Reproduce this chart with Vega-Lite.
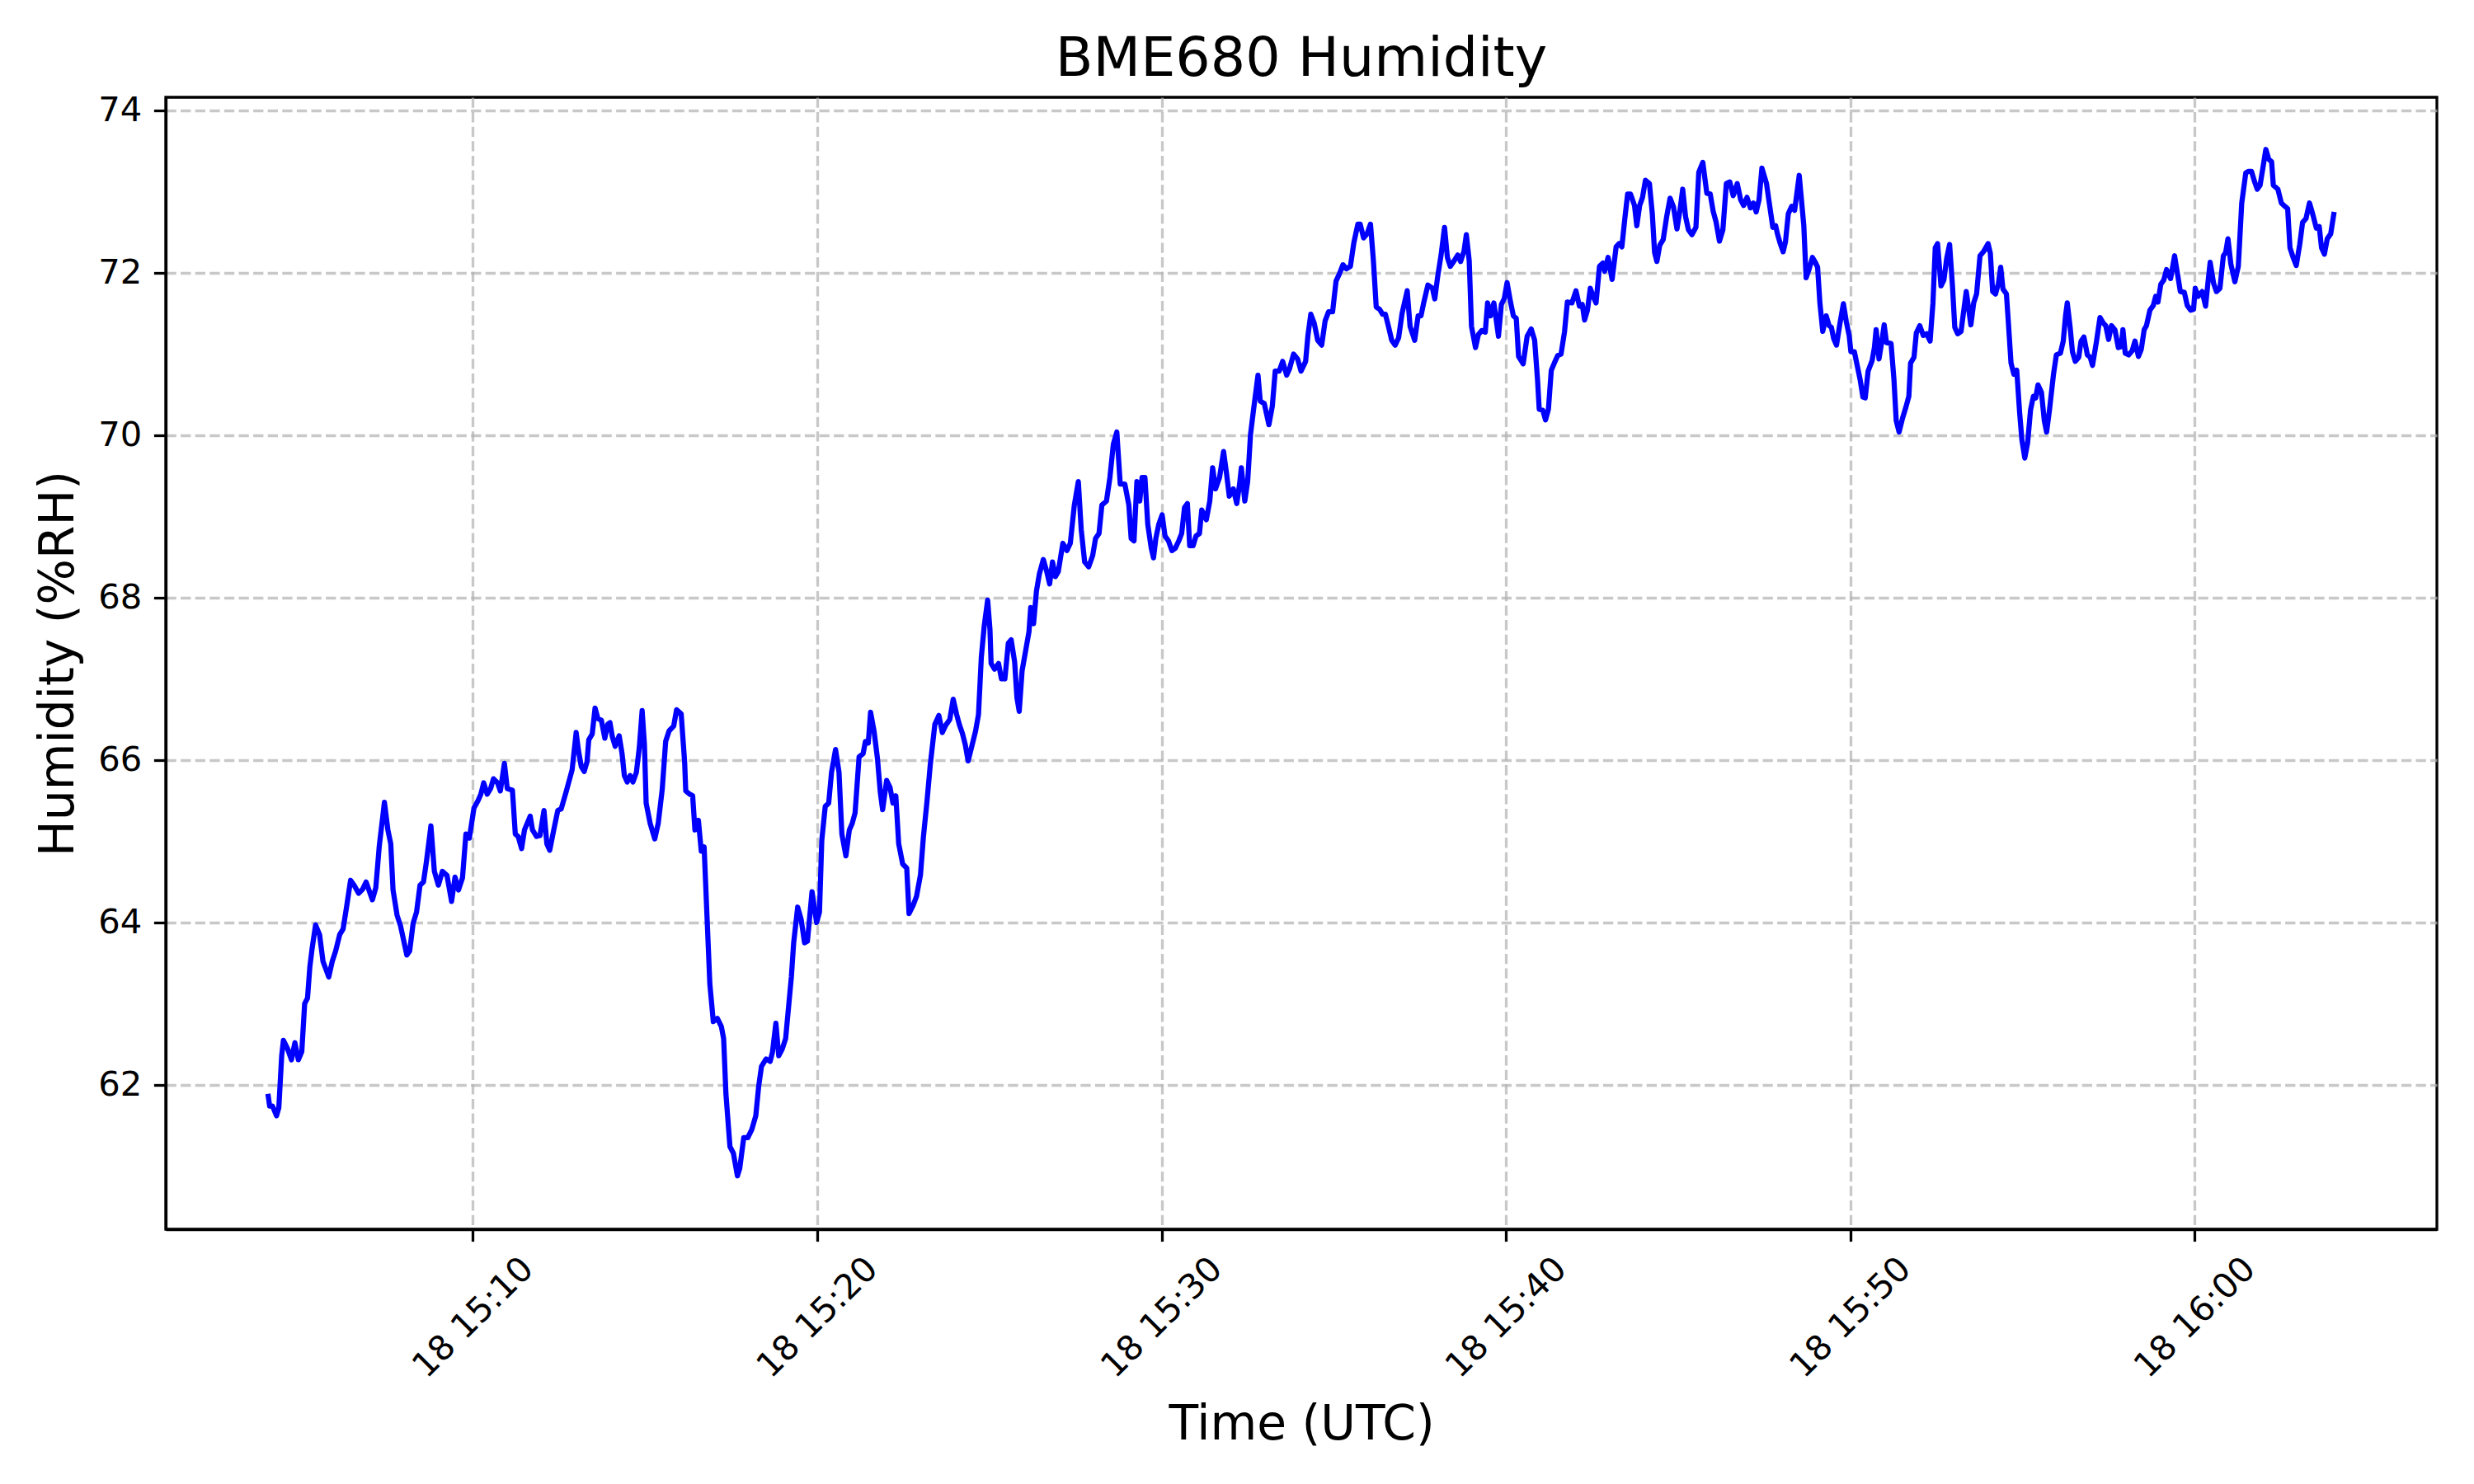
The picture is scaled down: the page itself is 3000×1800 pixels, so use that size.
{
"$schema": "https://vega.github.io/schema/vega-lite/v6.json",
"width": 2754,
"height": 1373,
"autosize": {"type": "none"},
"padding": {"left": 201, "top": 118, "right": 45, "bottom": 309},
"background": "white",
"config": {"view": {"stroke": "black", "strokeWidth": 3.3}, "font": "DejaVu Sans"},
"title": {"text": "BME680 Humidity", "fontSize": 66.7, "font": "DejaVu Sans", "fontWeight": "normal", "color": "black", "anchor": "middle", "baseline": "alphabetic", "offset": 25, "dy": 70},
"data": {"values": [
{"time":"2024-01-18T15:04:03","h":61.89},{"time":"2024-01-18T15:04:06","h":61.74},{"time":"2024-01-18T15:04:11","h":61.74},{"time":"2024-01-18T15:04:18","h":61.62},{"time":"2024-01-18T15:04:22","h":61.72},{"time":"2024-01-18T15:04:27","h":62.36},{"time":"2024-01-18T15:04:30","h":62.55},{"time":"2024-01-18T15:04:37","h":62.45},{"time":"2024-01-18T15:04:44","h":62.31},{"time":"2024-01-18T15:04:50","h":62.52},{"time":"2024-01-18T15:04:56","h":62.31},{"time":"2024-01-18T15:05:02","h":62.41},{"time":"2024-01-18T15:05:07","h":63.00},{"time":"2024-01-18T15:05:12","h":63.07},{"time":"2024-01-18T15:05:16","h":63.45},{"time":"2024-01-18T15:05:20","h":63.68},{"time":"2024-01-18T15:05:26","h":63.97},{"time":"2024-01-18T15:05:33","h":63.85},{"time":"2024-01-18T15:05:39","h":63.52},{"time":"2024-01-18T15:05:49","h":63.33},{"time":"2024-01-18T15:05:55","h":63.52},{"time":"2024-01-18T15:06:01","h":63.65},{"time":"2024-01-18T15:06:08","h":63.85},{"time":"2024-01-18T15:06:14","h":63.92},{"time":"2024-01-18T15:06:20","h":64.19},{"time":"2024-01-18T15:06:27","h":64.52},{"time":"2024-01-18T15:06:34","h":64.45},{"time":"2024-01-18T15:06:41","h":64.36},{"time":"2024-01-18T15:06:48","h":64.41},{"time":"2024-01-18T15:06:54","h":64.50},{"time":"2024-01-18T15:07:05","h":64.28},{"time":"2024-01-18T15:07:11","h":64.43},{"time":"2024-01-18T15:07:17","h":64.94},{"time":"2024-01-18T15:07:26","h":65.48},{"time":"2024-01-18T15:07:32","h":65.14},{"time":"2024-01-18T15:07:37","h":64.97},{"time":"2024-01-18T15:07:41","h":64.40},{"time":"2024-01-18T15:07:48","h":64.09},{"time":"2024-01-18T15:07:54","h":63.96},{"time":"2024-01-18T15:08:05","h":63.60},{"time":"2024-01-18T15:08:10","h":63.65},{"time":"2024-01-18T15:08:16","h":63.99},{"time":"2024-01-18T15:08:22","h":64.13},{"time":"2024-01-18T15:08:28","h":64.46},{"time":"2024-01-18T15:08:34","h":64.50},{"time":"2024-01-18T15:08:39","h":64.74},{"time":"2024-01-18T15:08:47","h":65.19},{"time":"2024-01-18T15:08:53","h":64.63},{"time":"2024-01-18T15:09:00","h":64.46},{"time":"2024-01-18T15:09:07","h":64.63},{"time":"2024-01-18T15:09:15","h":64.58},{"time":"2024-01-18T15:09:23","h":64.26},{"time":"2024-01-18T15:09:29","h":64.56},{"time":"2024-01-18T15:09:35","h":64.40},{"time":"2024-01-18T15:09:42","h":64.55},{"time":"2024-01-18T15:09:48","h":65.09},{"time":"2024-01-18T15:09:54","h":65.04},
{"time":"2024-01-18T15:10:02","h":65.41},{"time":"2024-01-18T15:10:09","h":65.50},{"time":"2024-01-18T15:10:14","h":65.58},{"time":"2024-01-18T15:10:19","h":65.72},{"time":"2024-01-18T15:10:25","h":65.58},{"time":"2024-01-18T15:10:31","h":65.65},{"time":"2024-01-18T15:10:36","h":65.77},{"time":"2024-01-18T15:10:43","h":65.72},{"time":"2024-01-18T15:10:48","h":65.62},{"time":"2024-01-18T15:10:55","h":65.96},{"time":"2024-01-18T15:11:00","h":65.65},{"time":"2024-01-18T15:11:09","h":65.63},{"time":"2024-01-18T15:11:14","h":65.09},{"time":"2024-01-18T15:11:19","h":65.06},{"time":"2024-01-18T15:11:25","h":64.91},{"time":"2024-01-18T15:11:30","h":65.14},{"time":"2024-01-18T15:11:40","h":65.31},{"time":"2024-01-18T15:11:44","h":65.14},{"time":"2024-01-18T15:11:51","h":65.06},{"time":"2024-01-18T15:11:57","h":65.07},{"time":"2024-01-18T15:12:04","h":65.38},{"time":"2024-01-18T15:12:09","h":64.97},{"time":"2024-01-18T15:12:14","h":64.89},{"time":"2024-01-18T15:12:21","h":65.14},{"time":"2024-01-18T15:12:28","h":65.38},{"time":"2024-01-18T15:12:34","h":65.40},{"time":"2024-01-18T15:12:43","h":65.62},{"time":"2024-01-18T15:12:53","h":65.88},{"time":"2024-01-18T15:13:00","h":66.34},{"time":"2024-01-18T15:13:04","h":66.12},{"time":"2024-01-18T15:13:09","h":65.92},{"time":"2024-01-18T15:13:14","h":65.86},{"time":"2024-01-18T15:13:19","h":65.98},{"time":"2024-01-18T15:13:22","h":66.25},{"time":"2024-01-18T15:13:28","h":66.32},{"time":"2024-01-18T15:13:33","h":66.64},{"time":"2024-01-18T15:13:38","h":66.51},{"time":"2024-01-18T15:13:44","h":66.49},{"time":"2024-01-18T15:13:50","h":66.27},{"time":"2024-01-18T15:13:55","h":66.44},{"time":"2024-01-18T15:13:59","h":66.46},{"time":"2024-01-18T15:14:03","h":66.29},{"time":"2024-01-18T15:14:08","h":66.17},{"time":"2024-01-18T15:14:15","h":66.30},{"time":"2024-01-18T15:14:20","h":66.08},{"time":"2024-01-18T15:14:24","h":65.81},{"time":"2024-01-18T15:14:29","h":65.73},{"time":"2024-01-18T15:14:34","h":65.81},{"time":"2024-01-18T15:14:39","h":65.73},{"time":"2024-01-18T15:14:45","h":65.85},{"time":"2024-01-18T15:14:50","h":66.15},{"time":"2024-01-18T15:14:55","h":66.61},{"time":"2024-01-18T15:14:59","h":66.19},
{"time":"2024-01-18T15:15:02","h":65.47},{"time":"2024-01-18T15:15:09","h":65.22},{"time":"2024-01-18T15:15:17","h":65.03},{"time":"2024-01-18T15:15:23","h":65.22},{"time":"2024-01-18T15:15:30","h":65.64},{"time":"2024-01-18T15:15:36","h":66.23},{"time":"2024-01-18T15:15:42","h":66.36},{"time":"2024-01-18T15:15:50","h":66.42},{"time":"2024-01-18T15:15:55","h":66.62},{"time":"2024-01-18T15:16:03","h":66.57},{"time":"2024-01-18T15:16:09","h":65.98},{"time":"2024-01-18T15:16:11","h":65.62},{"time":"2024-01-18T15:16:18","h":65.58},{"time":"2024-01-18T15:16:23","h":65.56},{"time":"2024-01-18T15:16:27","h":65.14},{"time":"2024-01-18T15:16:33","h":65.26},{"time":"2024-01-18T15:16:38","h":64.88},{"time":"2024-01-18T15:16:43","h":64.93},{"time":"2024-01-18T15:16:48","h":64.08},{"time":"2024-01-18T15:16:53","h":63.24},{"time":"2024-01-18T15:16:59","h":62.78},{"time":"2024-01-18T15:17:06","h":62.82},{"time":"2024-01-18T15:17:13","h":62.72},{"time":"2024-01-18T15:17:17","h":62.57},{"time":"2024-01-18T15:17:21","h":61.89},{"time":"2024-01-18T15:17:28","h":61.24},{"time":"2024-01-18T15:17:34","h":61.16},{"time":"2024-01-18T15:17:41","h":60.88},{"time":"2024-01-18T15:17:45","h":60.97},{"time":"2024-01-18T15:17:52","h":61.35},{"time":"2024-01-18T15:17:59","h":61.35},{"time":"2024-01-18T15:18:06","h":61.45},{"time":"2024-01-18T15:18:13","h":61.62},{"time":"2024-01-18T15:18:18","h":61.98},{"time":"2024-01-18T15:18:23","h":62.23},{"time":"2024-01-18T15:18:31","h":62.32},{"time":"2024-01-18T15:18:38","h":62.29},{"time":"2024-01-18T15:18:42","h":62.40},{"time":"2024-01-18T15:18:48","h":62.76},{"time":"2024-01-18T15:18:53","h":62.36},{"time":"2024-01-18T15:18:59","h":62.44},{"time":"2024-01-18T15:19:05","h":62.57},{"time":"2024-01-18T15:19:10","h":62.95},{"time":"2024-01-18T15:19:15","h":63.33},{"time":"2024-01-18T15:19:19","h":63.75},{"time":"2024-01-18T15:19:26","h":64.19},{"time":"2024-01-18T15:19:32","h":64.04},{"time":"2024-01-18T15:19:38","h":63.75},{"time":"2024-01-18T15:19:43","h":63.77},{"time":"2024-01-18T15:19:51","h":64.38},{"time":"2024-01-18T15:19:59","h":64.00},
{"time":"2024-01-18T15:20:04","h":64.13},{"time":"2024-01-18T15:20:08","h":65.01},{"time":"2024-01-18T15:20:14","h":65.43},{"time":"2024-01-18T15:20:20","h":65.47},{"time":"2024-01-18T15:20:25","h":65.85},{"time":"2024-01-18T15:20:32","h":66.13},{"time":"2024-01-18T15:20:38","h":65.85},{"time":"2024-01-18T15:20:43","h":65.09},{"time":"2024-01-18T15:20:50","h":64.82},{"time":"2024-01-18T15:20:56","h":65.14},{"time":"2024-01-18T15:21:01","h":65.22},{"time":"2024-01-18T15:21:06","h":65.35},{"time":"2024-01-18T15:21:13","h":66.04},{"time":"2024-01-18T15:21:20","h":66.08},{"time":"2024-01-18T15:21:24","h":66.23},{"time":"2024-01-18T15:21:29","h":66.21},{"time":"2024-01-18T15:21:33","h":66.59},{"time":"2024-01-18T15:21:39","h":66.36},{"time":"2024-01-18T15:21:45","h":66.02},{"time":"2024-01-18T15:21:50","h":65.60},{"time":"2024-01-18T15:21:54","h":65.39},{"time":"2024-01-18T15:22:01","h":65.75},{"time":"2024-01-18T15:22:07","h":65.66},{"time":"2024-01-18T15:22:12","h":65.47},{"time":"2024-01-18T15:22:17","h":65.56},{"time":"2024-01-18T15:22:22","h":64.97},{"time":"2024-01-18T15:22:29","h":64.72},{"time":"2024-01-18T15:22:36","h":64.67},{"time":"2024-01-18T15:22:40","h":64.11},{"time":"2024-01-18T15:22:47","h":64.21},{"time":"2024-01-18T15:22:53","h":64.32},{"time":"2024-01-18T15:23:00","h":64.59},{"time":"2024-01-18T15:23:05","h":65.05},{"time":"2024-01-18T15:23:11","h":65.47},{"time":"2024-01-18T15:23:17","h":65.94},{"time":"2024-01-18T15:23:25","h":66.44},{"time":"2024-01-18T15:23:32","h":66.55},{"time":"2024-01-18T15:23:38","h":66.34},{"time":"2024-01-18T15:23:44","h":66.43},{"time":"2024-01-18T15:23:51","h":66.50},{"time":"2024-01-18T15:23:57","h":66.75},{"time":"2024-01-18T15:24:03","h":66.56},{"time":"2024-01-18T15:24:08","h":66.43},{"time":"2024-01-18T15:24:13","h":66.33},{"time":"2024-01-18T15:24:18","h":66.19},{"time":"2024-01-18T15:24:23","h":65.99},{"time":"2024-01-18T15:24:29","h":66.16},{"time":"2024-01-18T15:24:36","h":66.36},{"time":"2024-01-18T15:24:41","h":66.56},{"time":"2024-01-18T15:24:46","h":67.27},{"time":"2024-01-18T15:24:51","h":67.65},{"time":"2024-01-18T15:24:57","h":67.97},
{"time":"2024-01-18T15:25:01","h":67.61},{"time":"2024-01-18T15:25:03","h":67.19},{"time":"2024-01-18T15:25:09","h":67.12},{"time":"2024-01-18T15:25:16","h":67.19},{"time":"2024-01-18T15:25:21","h":67.00},{"time":"2024-01-18T15:25:27","h":67.00},{"time":"2024-01-18T15:25:33","h":67.44},{"time":"2024-01-18T15:25:38","h":67.48},{"time":"2024-01-18T15:25:44","h":67.21},{"time":"2024-01-18T15:25:48","h":66.77},{"time":"2024-01-18T15:25:52","h":66.60},{"time":"2024-01-18T15:25:57","h":67.10},{"time":"2024-01-18T15:26:03","h":67.34},{"time":"2024-01-18T15:26:09","h":67.58},{"time":"2024-01-18T15:26:12","h":67.88},{"time":"2024-01-18T15:26:17","h":67.68},{"time":"2024-01-18T15:26:22","h":68.08},{"time":"2024-01-18T15:26:27","h":68.29},{"time":"2024-01-18T15:26:34","h":68.47},{"time":"2024-01-18T15:26:40","h":68.32},{"time":"2024-01-18T15:26:45","h":68.17},{"time":"2024-01-18T15:26:50","h":68.44},{"time":"2024-01-18T15:26:55","h":68.26},{"time":"2024-01-18T15:27:00","h":68.32},{"time":"2024-01-18T15:27:08","h":68.67},{"time":"2024-01-18T15:27:15","h":68.58},{"time":"2024-01-18T15:27:21","h":68.67},{"time":"2024-01-18T15:27:28","h":69.14},{"time":"2024-01-18T15:27:35","h":69.43},{"time":"2024-01-18T15:27:40","h":68.84},{"time":"2024-01-18T15:27:46","h":68.44},{"time":"2024-01-18T15:27:53","h":68.38},{"time":"2024-01-18T15:28:00","h":68.52},{"time":"2024-01-18T15:28:05","h":68.73},{"time":"2024-01-18T15:28:11","h":68.79},{"time":"2024-01-18T15:28:16","h":69.14},{"time":"2024-01-18T15:28:24","h":69.19},{"time":"2024-01-18T15:28:30","h":69.48},{"time":"2024-01-18T15:28:36","h":69.89},{"time":"2024-01-18T15:28:42","h":70.04},{"time":"2024-01-18T15:28:48","h":69.40},{"time":"2024-01-18T15:28:56","h":69.40},{"time":"2024-01-18T15:29:03","h":69.14},{"time":"2024-01-18T15:29:07","h":68.73},{"time":"2024-01-18T15:29:12","h":68.70},{"time":"2024-01-18T15:29:17","h":69.43},{"time":"2024-01-18T15:29:22","h":69.19},{"time":"2024-01-18T15:29:26","h":69.48},{"time":"2024-01-18T15:29:31","h":69.48},{"time":"2024-01-18T15:29:36","h":68.90},{"time":"2024-01-18T15:29:42","h":68.61},{"time":"2024-01-18T15:29:46","h":68.49},{"time":"2024-01-18T15:29:50","h":68.73},{"time":"2024-01-18T15:29:55","h":68.90},
{"time":"2024-01-18T15:30:01","h":69.02},{"time":"2024-01-18T15:30:06","h":68.76},{"time":"2024-01-18T15:30:12","h":68.70},{"time":"2024-01-18T15:30:18","h":68.58},{"time":"2024-01-18T15:30:24","h":68.61},{"time":"2024-01-18T15:30:30","h":68.70},{"time":"2024-01-18T15:30:35","h":68.79},{"time":"2024-01-18T15:30:40","h":69.11},{"time":"2024-01-18T15:30:45","h":69.16},{"time":"2024-01-18T15:30:49","h":68.64},{"time":"2024-01-18T15:30:55","h":68.64},{"time":"2024-01-18T15:31:00","h":68.76},{"time":"2024-01-18T15:31:06","h":68.79},{"time":"2024-01-18T15:31:10","h":69.08},{"time":"2024-01-18T15:31:18","h":68.96},{"time":"2024-01-18T15:31:24","h":69.19},{"time":"2024-01-18T15:31:29","h":69.60},{"time":"2024-01-18T15:31:34","h":69.34},{"time":"2024-01-18T15:31:41","h":69.48},{"time":"2024-01-18T15:31:48","h":69.80},{"time":"2024-01-18T15:31:53","h":69.54},{"time":"2024-01-18T15:31:58","h":69.25},{"time":"2024-01-18T15:32:05","h":69.34},{"time":"2024-01-18T15:32:11","h":69.16},{"time":"2024-01-18T15:32:16","h":69.40},{"time":"2024-01-18T15:32:19","h":69.60},{"time":"2024-01-18T15:32:25","h":69.19},{"time":"2024-01-18T15:32:30","h":69.43},{"time":"2024-01-18T15:32:35","h":70.01},{"time":"2024-01-18T15:32:40","h":70.30},{"time":"2024-01-18T15:32:48","h":70.74},{"time":"2024-01-18T15:32:52","h":70.42},{"time":"2024-01-18T15:32:59","h":70.39},{"time":"2024-01-18T15:33:07","h":70.13},{"time":"2024-01-18T15:33:13","h":70.36},{"time":"2024-01-18T15:33:18","h":70.79},{"time":"2024-01-18T15:33:25","h":70.79},{"time":"2024-01-18T15:33:31","h":70.91},{"time":"2024-01-18T15:33:38","h":70.74},{"time":"2024-01-18T15:33:43","h":70.82},{"time":"2024-01-18T15:33:50","h":71.00},{"time":"2024-01-18T15:33:57","h":70.94},{"time":"2024-01-18T15:34:03","h":70.79},{"time":"2024-01-18T15:34:11","h":70.91},{"time":"2024-01-18T15:34:15","h":71.23},{"time":"2024-01-18T15:34:20","h":71.49},{"time":"2024-01-18T15:34:26","h":71.38},{"time":"2024-01-18T15:34:32","h":71.17},{"time":"2024-01-18T15:34:39","h":71.11},{"time":"2024-01-18T15:34:45","h":71.41},{"time":"2024-01-18T15:34:51","h":71.52},{"time":"2024-01-18T15:34:58","h":71.52},
{"time":"2024-01-18T15:35:04","h":71.90},{"time":"2024-01-18T15:35:10","h":71.99},{"time":"2024-01-18T15:35:16","h":72.10},{"time":"2024-01-18T15:35:22","h":72.05},{"time":"2024-01-18T15:35:29","h":72.08},{"time":"2024-01-18T15:35:35","h":72.37},{"time":"2024-01-18T15:35:42","h":72.60},{"time":"2024-01-18T15:35:46","h":72.60},{"time":"2024-01-18T15:35:52","h":72.43},{"time":"2024-01-18T15:35:58","h":72.48},{"time":"2024-01-18T15:36:04","h":72.60},{"time":"2024-01-18T15:36:09","h":72.16},{"time":"2024-01-18T15:36:14","h":71.58},{"time":"2024-01-18T15:36:20","h":71.55},{"time":"2024-01-18T15:36:25","h":71.49},{"time":"2024-01-18T15:36:30","h":71.49},{"time":"2024-01-18T15:36:35","h":71.35},{"time":"2024-01-18T15:36:41","h":71.17},{"time":"2024-01-18T15:36:47","h":71.11},{"time":"2024-01-18T15:36:53","h":71.20},{"time":"2024-01-18T15:36:59","h":71.50},{"time":"2024-01-18T15:37:08","h":71.78},{"time":"2024-01-18T15:37:13","h":71.34},{"time":"2024-01-18T15:37:21","h":71.17},{"time":"2024-01-18T15:37:27","h":71.47},{"time":"2024-01-18T15:37:32","h":71.47},{"time":"2024-01-18T15:37:37","h":71.64},{"time":"2024-01-18T15:37:44","h":71.85},{"time":"2024-01-18T15:37:52","h":71.81},{"time":"2024-01-18T15:37:56","h":71.68},{"time":"2024-01-18T15:38:01","h":71.95},{"time":"2024-01-18T15:38:07","h":72.22},{"time":"2024-01-18T15:38:13","h":72.56},{"time":"2024-01-18T15:38:18","h":72.19},{"time":"2024-01-18T15:38:23","h":72.08},{"time":"2024-01-18T15:38:29","h":72.14},{"time":"2024-01-18T15:38:36","h":72.22},{"time":"2024-01-18T15:38:41","h":72.14},{"time":"2024-01-18T15:38:47","h":72.27},{"time":"2024-01-18T15:38:51","h":72.47},{"time":"2024-01-18T15:38:56","h":72.15},{"time":"2024-01-18T15:39:00","h":71.34},{"time":"2024-01-18T15:39:07","h":71.08},{"time":"2024-01-18T15:39:12","h":71.24},{"time":"2024-01-18T15:39:18","h":71.29},{"time":"2024-01-18T15:39:24","h":71.27},{"time":"2024-01-18T15:39:28","h":71.63},{"time":"2024-01-18T15:39:33","h":71.47},{"time":"2024-01-18T15:39:39","h":71.63},{"time":"2024-01-18T15:39:47","h":71.22},{"time":"2024-01-18T15:39:52","h":71.61},{"time":"2024-01-18T15:39:57","h":71.68},
{"time":"2024-01-18T15:40:02","h":71.88},{"time":"2024-01-18T15:40:08","h":71.64},{"time":"2024-01-18T15:40:13","h":71.47},{"time":"2024-01-18T15:40:18","h":71.44},{"time":"2024-01-18T15:40:22","h":70.97},{"time":"2024-01-18T15:40:30","h":70.88},{"time":"2024-01-18T15:40:37","h":71.22},{"time":"2024-01-18T15:40:44","h":71.31},{"time":"2024-01-18T15:40:50","h":71.17},{"time":"2024-01-18T15:40:55","h":70.69},{"time":"2024-01-18T15:40:58","h":70.32},{"time":"2024-01-18T15:41:04","h":70.31},{"time":"2024-01-18T15:41:09","h":70.19},{"time":"2024-01-18T15:41:14","h":70.32},{"time":"2024-01-18T15:41:19","h":70.80},{"time":"2024-01-18T15:41:25","h":70.90},{"time":"2024-01-18T15:41:30","h":70.98},{"time":"2024-01-18T15:41:36","h":71.00},{"time":"2024-01-18T15:41:42","h":71.27},{"time":"2024-01-18T15:41:47","h":71.64},{"time":"2024-01-18T15:41:55","h":71.63},{"time":"2024-01-18T15:42:02","h":71.78},{"time":"2024-01-18T15:42:08","h":71.59},{"time":"2024-01-18T15:42:13","h":71.61},{"time":"2024-01-18T15:42:17","h":71.42},{"time":"2024-01-18T15:42:22","h":71.54},{"time":"2024-01-18T15:42:27","h":71.81},{"time":"2024-01-18T15:42:32","h":71.71},{"time":"2024-01-18T15:42:37","h":71.63},{"time":"2024-01-18T15:42:43","h":72.08},{"time":"2024-01-18T15:42:49","h":72.12},{"time":"2024-01-18T15:42:52","h":72.02},{"time":"2024-01-18T15:42:58","h":72.19},{"time":"2024-01-18T15:43:05","h":71.92},{"time":"2024-01-18T15:43:12","h":72.32},{"time":"2024-01-18T15:43:17","h":72.36},{"time":"2024-01-18T15:43:22","h":72.32},{"time":"2024-01-18T15:43:27","h":72.66},{"time":"2024-01-18T15:43:32","h":72.97},{"time":"2024-01-18T15:43:37","h":72.97},{"time":"2024-01-18T15:43:44","h":72.83},{"time":"2024-01-18T15:43:48","h":72.58},{"time":"2024-01-18T15:43:53","h":72.83},{"time":"2024-01-18T15:43:58","h":72.93},{"time":"2024-01-18T15:44:03","h":73.14},{"time":"2024-01-18T15:44:10","h":73.10},{"time":"2024-01-18T15:44:15","h":72.73},{"time":"2024-01-18T15:44:19","h":72.25},{"time":"2024-01-18T15:44:23","h":72.14},{"time":"2024-01-18T15:44:28","h":72.34},{"time":"2024-01-18T15:44:34","h":72.41},{"time":"2024-01-18T15:44:40","h":72.69},{"time":"2024-01-18T15:44:46","h":72.92},{"time":"2024-01-18T15:44:52","h":72.81},{"time":"2024-01-18T15:44:58","h":72.54},
{"time":"2024-01-18T15:45:03","h":72.76},{"time":"2024-01-18T15:45:08","h":73.03},{"time":"2024-01-18T15:45:13","h":72.69},{"time":"2024-01-18T15:45:18","h":72.53},{"time":"2024-01-18T15:45:24","h":72.47},{"time":"2024-01-18T15:45:31","h":72.56},{"time":"2024-01-18T15:45:36","h":73.24},{"time":"2024-01-18T15:45:43","h":73.36},{"time":"2024-01-18T15:45:50","h":72.98},{"time":"2024-01-18T15:45:56","h":72.97},{"time":"2024-01-18T15:46:01","h":72.76},{"time":"2024-01-18T15:46:06","h":72.63},{"time":"2024-01-18T15:46:12","h":72.39},{"time":"2024-01-18T15:46:18","h":72.53},{"time":"2024-01-18T15:46:24","h":73.10},{"time":"2024-01-18T15:46:30","h":73.12},{"time":"2024-01-18T15:46:36","h":72.95},{"time":"2024-01-18T15:46:43","h":73.10},{"time":"2024-01-18T15:46:49","h":72.90},{"time":"2024-01-18T15:46:54","h":72.83},{"time":"2024-01-18T15:47:00","h":72.93},{"time":"2024-01-18T15:47:06","h":72.80},{"time":"2024-01-18T15:47:11","h":72.86},{"time":"2024-01-18T15:47:16","h":72.75},{"time":"2024-01-18T15:47:21","h":72.90},{"time":"2024-01-18T15:47:26","h":73.29},{"time":"2024-01-18T15:47:34","h":73.10},{"time":"2024-01-18T15:47:38","h":72.90},{"time":"2024-01-18T15:47:45","h":72.56},{"time":"2024-01-18T15:47:50","h":72.58},{"time":"2024-01-18T15:47:53","h":72.48},{"time":"2024-01-18T15:47:58","h":72.36},{"time":"2024-01-18T15:48:03","h":72.26},{"time":"2024-01-18T15:48:07","h":72.38},{"time":"2024-01-18T15:48:12","h":72.73},{"time":"2024-01-18T15:48:18","h":72.82},{"time":"2024-01-18T15:48:23","h":72.77},{"time":"2024-01-18T15:48:31","h":73.20},{"time":"2024-01-18T15:48:39","h":72.58},{"time":"2024-01-18T15:48:43","h":71.94},{"time":"2024-01-18T15:48:48","h":72.04},{"time":"2024-01-18T15:48:54","h":72.19},{"time":"2024-01-18T15:48:59","h":72.13},{"time":"2024-01-18T15:49:03","h":72.07},{"time":"2024-01-18T15:49:07","h":71.63},{"time":"2024-01-18T15:49:12","h":71.28},{"time":"2024-01-18T15:49:18","h":71.47},{"time":"2024-01-18T15:49:23","h":71.35},{"time":"2024-01-18T15:49:27","h":71.33},{"time":"2024-01-18T15:49:31","h":71.19},{"time":"2024-01-18T15:49:36","h":71.11},{"time":"2024-01-18T15:49:42","h":71.38},{"time":"2024-01-18T15:49:48","h":71.62},{"time":"2024-01-18T15:49:53","h":71.40},{"time":"2024-01-18T15:49:58","h":71.23},
{"time":"2024-01-18T15:50:01","h":71.03},{"time":"2024-01-18T15:50:07","h":71.03},{"time":"2024-01-18T15:50:12","h":70.86},{"time":"2024-01-18T15:50:17","h":70.69},{"time":"2024-01-18T15:50:22","h":70.47},{"time":"2024-01-18T15:50:26","h":70.46},{"time":"2024-01-18T15:50:31","h":70.79},{"time":"2024-01-18T15:50:38","h":70.92},{"time":"2024-01-18T15:50:42","h":71.08},{"time":"2024-01-18T15:50:45","h":71.30},{"time":"2024-01-18T15:50:50","h":70.94},{"time":"2024-01-18T15:50:55","h":71.16},{"time":"2024-01-18T15:50:59","h":71.36},{"time":"2024-01-18T15:51:03","h":71.14},{"time":"2024-01-18T15:51:11","h":71.13},{"time":"2024-01-18T15:51:16","h":70.69},{"time":"2024-01-18T15:51:20","h":70.18},{"time":"2024-01-18T15:51:25","h":70.04},{"time":"2024-01-18T15:51:31","h":70.21},{"time":"2024-01-18T15:51:37","h":70.35},{"time":"2024-01-18T15:51:42","h":70.48},{"time":"2024-01-18T15:51:45","h":70.89},{"time":"2024-01-18T15:51:51","h":70.96},{"time":"2024-01-18T15:51:55","h":71.26},{"time":"2024-01-18T15:52:01","h":71.35},{"time":"2024-01-18T15:52:07","h":71.23},{"time":"2024-01-18T15:52:13","h":71.25},{"time":"2024-01-18T15:52:19","h":71.16},{"time":"2024-01-18T15:52:24","h":71.63},{"time":"2024-01-18T15:52:28","h":72.31},{"time":"2024-01-18T15:52:32","h":72.36},{"time":"2024-01-18T15:52:38","h":71.84},{"time":"2024-01-18T15:52:43","h":71.91},{"time":"2024-01-18T15:52:48","h":72.18},{"time":"2024-01-18T15:52:53","h":72.35},{"time":"2024-01-18T15:52:58","h":71.84},{"time":"2024-01-18T15:53:02","h":71.33},{"time":"2024-01-18T15:53:07","h":71.25},{"time":"2024-01-18T15:53:13","h":71.28},{"time":"2024-01-18T15:53:17","h":71.50},{"time":"2024-01-18T15:53:22","h":71.77},{"time":"2024-01-18T15:53:26","h":71.57},{"time":"2024-01-18T15:53:30","h":71.36},{"time":"2024-01-18T15:53:35","h":71.63},{"time":"2024-01-18T15:53:40","h":71.74},{"time":"2024-01-18T15:53:46","h":72.21},{"time":"2024-01-18T15:53:52","h":72.26},{"time":"2024-01-18T15:54:00","h":72.36},{"time":"2024-01-18T15:54:04","h":72.24},{"time":"2024-01-18T15:54:08","h":71.77},{"time":"2024-01-18T15:54:13","h":71.74},{"time":"2024-01-18T15:54:18","h":71.87},{"time":"2024-01-18T15:54:22","h":72.07},{"time":"2024-01-18T15:54:26","h":71.80},{"time":"2024-01-18T15:54:32","h":71.74},{"time":"2024-01-18T15:54:35","h":71.43},{"time":"2024-01-18T15:54:40","h":70.89},{"time":"2024-01-18T15:54:45","h":70.75},{"time":"2024-01-18T15:54:50","h":70.80},{"time":"2024-01-18T15:54:55","h":70.28},{"time":"2024-01-18T15:54:59","h":69.94},
{"time":"2024-01-18T15:55:04","h":69.72},{"time":"2024-01-18T15:55:09","h":69.91},{"time":"2024-01-18T15:55:14","h":70.31},{"time":"2024-01-18T15:55:19","h":70.48},{"time":"2024-01-18T15:55:23","h":70.46},{"time":"2024-01-18T15:55:27","h":70.62},{"time":"2024-01-18T15:55:33","h":70.53},{"time":"2024-01-18T15:55:38","h":70.18},{"time":"2024-01-18T15:55:42","h":70.04},{"time":"2024-01-18T15:55:47","h":70.31},{"time":"2024-01-18T15:55:54","h":70.75},{"time":"2024-01-18T15:55:59","h":70.99},{"time":"2024-01-18T15:56:06","h":71.01},{"time":"2024-01-18T15:56:11","h":71.16},{"time":"2024-01-18T15:56:15","h":71.47},{"time":"2024-01-18T15:56:18","h":71.63},{"time":"2024-01-18T15:56:23","h":71.33},{"time":"2024-01-18T15:56:27","h":71.03},{"time":"2024-01-18T15:56:32","h":70.91},{"time":"2024-01-18T15:56:38","h":70.96},{"time":"2024-01-18T15:56:42","h":71.16},{"time":"2024-01-18T15:56:47","h":71.21},{"time":"2024-01-18T15:56:53","h":70.99},{"time":"2024-01-18T15:56:58","h":70.96},{"time":"2024-01-18T15:57:02","h":70.86},{"time":"2024-01-18T15:57:09","h":71.16},{"time":"2024-01-18T15:57:15","h":71.45},{"time":"2024-01-18T15:57:21","h":71.38},{"time":"2024-01-18T15:57:25","h":71.35},{"time":"2024-01-18T15:57:30","h":71.18},{"time":"2024-01-18T15:57:35","h":71.35},{"time":"2024-01-18T15:57:41","h":71.30},{"time":"2024-01-18T15:57:47","h":71.08},{"time":"2024-01-18T15:57:52","h":71.09},{"time":"2024-01-18T15:57:55","h":71.30},{"time":"2024-01-18T15:57:59","h":71.01},{"time":"2024-01-18T15:58:05","h":70.99},{"time":"2024-01-18T15:58:11","h":71.04},{"time":"2024-01-18T15:58:16","h":71.16},{"time":"2024-01-18T15:58:22","h":70.97},{"time":"2024-01-18T15:58:27","h":71.06},{"time":"2024-01-18T15:58:32","h":71.30},{"time":"2024-01-18T15:58:36","h":71.35},{"time":"2024-01-18T15:58:42","h":71.54},{"time":"2024-01-18T15:58:48","h":71.60},{"time":"2024-01-18T15:58:52","h":71.71},{"time":"2024-01-18T15:58:56","h":71.64},{"time":"2024-01-18T15:59:01","h":71.86},{"time":"2024-01-18T15:59:06","h":71.91},{"time":"2024-01-18T15:59:11","h":72.04},{"time":"2024-01-18T15:59:18","h":71.93},{"time":"2024-01-18T15:59:25","h":72.21},{"time":"2024-01-18T15:59:30","h":71.99},{"time":"2024-01-18T15:59:35","h":71.77},{"time":"2024-01-18T15:59:42","h":71.76},{"time":"2024-01-18T15:59:47","h":71.60},{"time":"2024-01-18T15:59:53","h":71.54},{"time":"2024-01-18T15:59:58","h":71.55},
{"time":"2024-01-18T16:00:01","h":71.81},{"time":"2024-01-18T16:00:06","h":71.71},{"time":"2024-01-18T16:00:13","h":71.77},{"time":"2024-01-18T16:00:19","h":71.59},{"time":"2024-01-18T16:00:23","h":71.87},{"time":"2024-01-18T16:00:27","h":72.13},{"time":"2024-01-18T16:00:33","h":71.87},{"time":"2024-01-18T16:00:38","h":71.77},{"time":"2024-01-18T16:00:44","h":71.81},{"time":"2024-01-18T16:00:50","h":72.21},{"time":"2024-01-18T16:00:54","h":72.25},{"time":"2024-01-18T16:00:58","h":72.42},{"time":"2024-01-18T16:01:03","h":72.11},{"time":"2024-01-18T16:01:10","h":71.89},{"time":"2024-01-18T16:01:16","h":72.08},{"time":"2024-01-18T16:01:22","h":72.86},{"time":"2024-01-18T16:01:29","h":73.23},{"time":"2024-01-18T16:01:34","h":73.25},{"time":"2024-01-18T16:01:39","h":73.25},{"time":"2024-01-18T16:01:44","h":73.13},{"time":"2024-01-18T16:01:49","h":73.03},{"time":"2024-01-18T16:01:54","h":73.08},{"time":"2024-01-18T16:01:59","h":73.30},{"time":"2024-01-18T16:02:04","h":73.52},{"time":"2024-01-18T16:02:09","h":73.40},{"time":"2024-01-18T16:02:14","h":73.37},{"time":"2024-01-18T16:02:17","h":73.08},{"time":"2024-01-18T16:02:25","h":73.03},{"time":"2024-01-18T16:02:31","h":72.86},{"time":"2024-01-18T16:02:37","h":72.82},{"time":"2024-01-18T16:02:42","h":72.79},{"time":"2024-01-18T16:02:46","h":72.31},{"time":"2024-01-18T16:02:52","h":72.18},{"time":"2024-01-18T16:02:57","h":72.09},{"time":"2024-01-18T16:03:03","h":72.35},{"time":"2024-01-18T16:03:08","h":72.62},{"time":"2024-01-18T16:03:14","h":72.67},{"time":"2024-01-18T16:03:20","h":72.86},{"time":"2024-01-18T16:03:25","h":72.74},{"time":"2024-01-18T16:03:32","h":72.55},{"time":"2024-01-18T16:03:37","h":72.57},{"time":"2024-01-18T16:03:41","h":72.31},{"time":"2024-01-18T16:03:46","h":72.23},{"time":"2024-01-18T16:03:51","h":72.42},{"time":"2024-01-18T16:03:57","h":72.48},{"time":"2024-01-18T16:04:03","h":72.75}
]},
"mark": {"type": "line", "color": "#0000ff", "strokeWidth": 6.25, "strokeJoin": "round", "strokeCap": "butt"},
"encoding": {
"x": {"field": "time", "type": "temporal",
 "scale": {"domain": [{"year": 2024, "month": 1, "date": 18, "hours": 15, "minutes": 1, "seconds": 5}, {"year": 2024, "month": 1, "date": 18, "hours": 16, "minutes": 7, "seconds": 2}]},
 "axis": {
  "values": [{"year": 2024, "month": 1, "date": 18, "hours": 15, "minutes": 10}, {"year": 2024, "month": 1, "date": 18, "hours": 15, "minutes": 20}, {"year": 2024, "month": 1, "date": 18, "hours": 15, "minutes": 30}, {"year": 2024, "month": 1, "date": 18, "hours": 15, "minutes": 40}, {"year": 2024, "month": 1, "date": 18, "hours": 15, "minutes": 50}, {"year": 2024, "month": 1, "date": 18, "hours": 16, "minutes": 0}],
  "format": "%d %H:%M",
  "labelAngle": -45, "labelAlign": "center", "labelBaseline": "middle", "labelPadding": 92, "labelLimit": 1000,
  "labelFont": "DejaVu Sans", "labelFontSize": 41.7, "labelColor": "black", "labelFlush": false, "labelOverlap": false,
  "tickSize": 14.6, "tickWidth": 3.3, "tickColor": "black",
  "domainColor": "black", "domainWidth": 3.3,
  "grid": true, "gridColor": "#b0b0b0", "gridOpacity": 0.7, "gridWidth": 3.3, "gridDash": [12.3, 5.3],
  "title": "Time (UTC)", "titleFont": "DejaVu Sans", "titleFontSize": 58.3, "titleFontWeight": "normal", "titleColor": "black",
  "titleBaseline": "alphabetic", "titleAlign": "center", "titleY": 254
 }},
"y": {"field": "h", "type": "quantitative",
 "scale": {"domain": [60.223, 74.162], "nice": false, "zero": false},
 "axis": {
  "values": [62, 64, 66, 68, 70, 72, 74],
  "labelFont": "DejaVu Sans", "labelFontSize": 41.7, "labelColor": "black", "labelPadding": 14.6, "labelFlush": false,
  "tickSize": 14.6, "tickWidth": 3.3, "tickColor": "black",
  "domainColor": "black", "domainWidth": 3.3,
  "grid": true, "gridColor": "#b0b0b0", "gridOpacity": 0.7, "gridWidth": 3.3, "gridDash": [12.3, 5.3],
  "title": "Humidity (%RH)", "titleFont": "DejaVu Sans", "titleFontSize": 58.3, "titleFontWeight": "normal", "titleColor": "black",
  "titleAngle": -90, "titleBaseline": "alphabetic", "titleAlign": "center", "titleX": -113, "titleY": 686.5
 }}
}
}
